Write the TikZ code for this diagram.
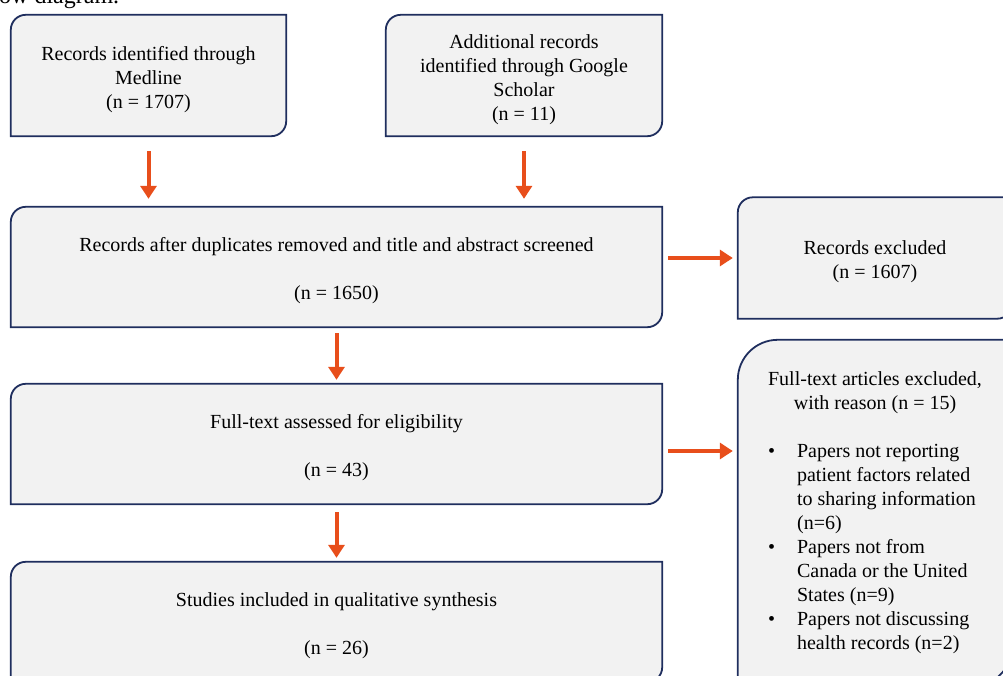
\documentclass[tikz,border=0pt]{standalone}
\usepackage{fontspec}
\setmainfont{Liberation Serif}
\usetikzlibrary{arrows.meta,backgrounds}
\definecolor{boxfill}{RGB}{242,242,242}
\definecolor{boxedge}{RGB}{31,46,94}
\definecolor{flowarrow}{RGB}{232,78,27}
\newcommand{\boxlines}[1]{\raisebox{-4pt}[\height][\depth]{\begin{tabular}{@{}c@{}}#1\end{tabular}}}
\begin{document}
\begin{tikzpicture}[x=1pt,y=-1pt,
  box/.style={inner sep=0pt, font=\fontsize{20}{24}\selectfont},
  boxline/.style={draw=boxedge, fill=boxfill, line width=1.8pt},
  flow/.style={flowarrow, line width=4pt, -{Triangle[length=13pt,width=16pt]}}]
\useasboundingbox (0,0) rectangle (1003,675);
\node[anchor=base west, inner sep=0pt, font=\fontsize{24}{28}\selectfont] (cap) at (-21,3) {Flow diagram.};
\node[box, minimum width=275pt, minimum height=121pt] (medline) at (148.5,75.5) {\boxlines{Records identified through\\Medline\\(n = 1707)}};
\node[box, minimum width=276pt, minimum height=121pt] (scholar) at (524,75.5) {\boxlines{Additional records\\identified through Google\\Scholar\\(n = 11)}};
\node[box, minimum width=651pt, minimum height=120pt] (dup) at (336.5,267) {\boxlines{Records after duplicates removed and title and abstract screened\\[24pt](n = 1650)}};
\node[box, minimum width=274pt, minimum height=121pt] (excl) at (875,258) {\boxlines{Records excluded\\(n = 1607)}};
\node[box, minimum width=651pt, minimum height=120pt] (full) at (336.5,444) {\boxlines{Full-text assessed for eligibility\\[24pt](n = 43)}};
\node[box, minimum width=274pt, minimum height=346pt] (reasons) at (875,513) {\begin{tabular}{@{}l@{}l@{}}
\multicolumn{2}{@{}c@{}}{Full-text articles excluded,}\\
\multicolumn{2}{@{}c@{}}{with reason (n = 15)}\\
\\
\makebox[29pt][l]{\textbullet} & Papers not reporting\\
 & patient factors related\\
 & to sharing information\\
 & (n=6)\\
\textbullet & Papers not from\\
 & Canada or the United\\
 & States (n=9)\\
\textbullet & Papers not discussing\\
 & health records (n=2)
\end{tabular}};
\node[box, minimum width=651pt, minimum height=120pt] (incl) at (336.5,622) {\boxlines{Studies included in qualitative synthesis\\[24pt](n = 26)}};
% box outlines, rounded top left and bottom right
\begin{scope}[on background layer]
\foreach \b/\r in {medline/15, scholar/15, dup/15, excl/15, full/15, incl/15, reasons/40}
  \draw[boxline] (\b.south west) -- ([yshift=-\r pt]\b.north west) arc[start angle=180, end angle=90, radius=\r pt] -- (\b.north east) -- ([yshift=\r pt]\b.south east) arc[start angle=0, end angle=-90, radius=\r pt] -- cycle;
\end{scope}
\draw[flow, shorten <=15pt, shorten >=8pt] (medline.south) -- (medline.south |- dup.north);
\draw[flow, shorten <=15pt, shorten >=8pt] (scholar.south) -- (scholar.south |- dup.north);
\draw[flow, shorten <=6pt, shorten >=5pt] (dup.east |- excl.west) -- (excl.west);
\draw[flow, shorten <=6pt, shorten >=4pt] (dup.south) -- (full.north);
\draw[flow, shorten <=6pt, shorten >=5pt] ([yshift=-7pt]full.east) -- ([yshift=-7pt]full.east -| reasons.west);
\draw[flow, shorten <=8pt, shorten >=4pt] (full.south) -- (incl.north);
\end{tikzpicture}
\end{document}
